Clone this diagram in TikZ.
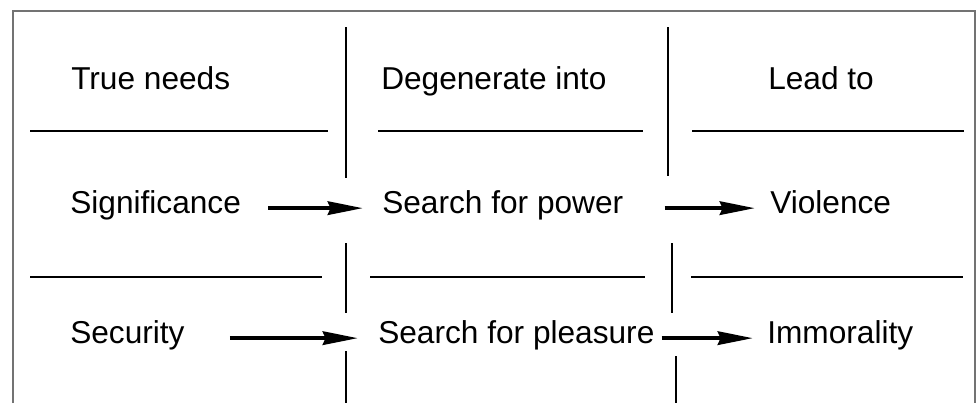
\documentclass[tikz,border=0pt]{standalone}
\usepackage{fontspec}
\setmainfont{Liberation Sans}
\usetikzlibrary{arrows.meta,calc}
\begin{document}
\begin{tikzpicture}[x=0.025cm,y=-0.025cm,
        lbl/.style={anchor=base west,inner sep=0pt,text height=15.6pt,text depth=8.7pt,font=\fontsize{22.5}{27}\selectfont},
        arr/.style={-{Stealth[length=25pt,width=9.5pt,inset=2pt]},line width=2.9pt},
        rule/.style={line width=2pt},
        bar/.style={line width=1.8pt}]
    \useasboundingbox (0,0) rectangle (978,403);
    \draw[black!55,line width=1.5pt] (13,403) -- (13,11) -- (975,11) -- (975,403);
    \node[lbl] (needs) at (71,89) {True needs};
    \node[lbl] (degen) at (381,89) {Degenerate into};
    \node[lbl] (lead) at (768,89) {Lead to};
    \node[lbl] (sig) at (70,213) {Significance};
    \node[lbl] (power) at (382,213) {Search for power};
    \node[lbl] (viol) at (770,213) {Violence};
    \node[lbl] (sec) at (70,343) {Security};
    \node[lbl] (pleas) at (378,343) {Search for pleasure};
    \node[lbl] (immor) at (767,343) {Immorality};
    \draw[rule] (30,131) -- (328,131);
    \draw[rule] (378,131) -- (643,131);
    \draw[rule] (692,131) -- (964,131);
    \draw[rule,line width=1.6pt] (30,277) -- (322,277);
    \draw[rule,line width=1.6pt] (370,277) -- (645,277);
    \draw[rule,line width=1.6pt] (691,277) -- (963,277);
    \draw[bar] (346,27) -- (346,178);
    \draw[bar] (346,243) -- (346,313);
    \draw[bar] (346,351) -- (346,403);
    \draw[bar] (668,27) -- (668,176);
    \draw[bar] (672,243) -- (672,313);
    \draw[bar] (676,356) -- (676,403);
    \draw[arr] ($(sig.east)+(27,0)$) -- ($(power.west)+(-19,0)$);
    \draw[arr] ($(power.east)+(41,0)$) -- ($(viol.west)+(-15,0)$);
    \draw[arr] ($(sec.east)+(45,0)$) -- ($(pleas.west)+(-20,0)$);
    \draw[arr] ($(pleas.east)+(7,0)$) -- ($(immor.west)+(-14,0)$);
\end{tikzpicture}
\end{document}
